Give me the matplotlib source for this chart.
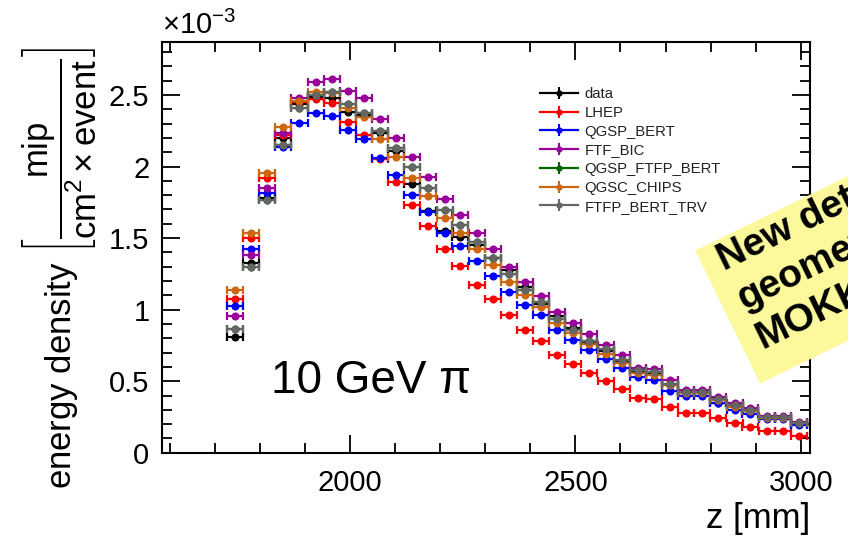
import matplotlib
matplotlib.use("Agg")
import matplotlib.pyplot as plt
from matplotlib.lines import Line2D
from matplotlib.patches import Polygon
from matplotlib.legend_handler import HandlerTuple
from matplotlib.ticker import MultipleLocator, FuncFormatter

plt.rcParams['font.family'] = ['Liberation Sans', 'DejaVu Sans']
plt.rcParams['mathtext.fontset'] = 'custom'
plt.rcParams['mathtext.rm'] = 'Liberation Sans'
plt.rcParams['mathtext.it'] = 'Liberation Sans:italic'
plt.rcParams['mathtext.bf'] = 'Liberation Sans:bold'

# layer positions [mm]
z = [1745, 1781, 1817, 1852, 1888, 1924, 1960, 1995, 2031, 2067, 2102, 2138,
     2174, 2210, 2245, 2281, 2317, 2353, 2388, 2424, 2460, 2495, 2531, 2567,
     2603, 2638, 2674, 2710, 2746, 2781, 2817, 2853, 2888, 2924, 2960, 2996]
half_width = 17.8

# energy density in units of 1e-3 mip / (cm^2 x event)
data = [0.81, 1.325, 1.78, 2.20, 2.435, 2.488, 2.481, 2.379, 2.360, 2.233, 2.109, 1.878,
        1.692, 1.55, 1.506, 1.452, 1.36, 1.278, 1.161, 1.04, 0.959, 0.871, 0.77, 0.71,
        0.642, 0.565, 0.555, 0.475, 0.415, 0.415, 0.347, 0.325, 0.29, 0.24, 0.24, 0.20]
lhep = [1.075, 1.501, 1.918, 2.22, 2.449, 2.470, 2.442, 2.309, 2.221, 2.05, 1.895, 1.734,
        1.587, 1.425, 1.308, 1.173, 1.071, 0.961, 0.861, 0.784, 0.684, 0.622, 0.559, 0.501,
        0.449, 0.385, 0.375, 0.317, 0.277, 0.281, 0.240, 0.207, 0.179, 0.149, 0.149, 0.119]
qgsp_bert = [1.027, 1.422, 1.814, 2.135, 2.302, 2.372, 2.355, 2.253, 2.193, 2.06, 1.941, 1.804,
             1.681, 1.534, 1.446, 1.341, 1.238, 1.126, 1.036, 0.964, 0.859, 0.787, 0.717, 0.654,
             0.594, 0.530, 0.510, 0.435, 0.398, 0.398, 0.35, 0.300, 0.270, 0.235, 0.235, 0.197]
ftf_bic = [0.955, 1.383, 1.853, 2.237, 2.481, 2.591, 2.612, 2.528, 2.477, 2.332, 2.202, 2.067,
           1.925, 1.774, 1.660, 1.536, 1.427, 1.301, 1.194, 1.096, 0.982, 0.906, 0.829, 0.756,
           0.680, 0.595, 0.587, 0.510, 0.440, 0.440, 0.389, 0.347, 0.312, 0.255, 0.255, 0.215]
qgsc_chips = [1.138, 1.538, 1.953, 2.279, 2.460, 2.521, 2.512, 2.407, 2.344, 2.195, 2.069, 1.918,
              1.793, 1.643, 1.538, 1.422, 1.313, 1.196, 1.099, 1.017, 0.906, 0.836, 0.759, 0.689,
              0.626, 0.555, 0.545, 0.470, 0.415, 0.415, 0.368, 0.322, 0.290, 0.242, 0.242, 0.205]
ftfp_bert_trv = [0.868, 1.301, 1.767, 2.151, 2.411, 2.502, 2.523, 2.435, 2.377, 2.249, 2.128, 1.995,
                 1.853, 1.697, 1.592, 1.471, 1.360, 1.250, 1.138, 1.050, 0.934, 0.859, 0.782, 0.724,
                 0.649, 0.578, 0.563, 0.482, 0.426, 0.426, 0.375, 0.333, 0.300, 0.247, 0.247, 0.207]
# not visible in the picture: sits underneath FTFP_BERT_TRV
qgsp_ftfp_bert = [0.868, 1.301, 1.767, 2.151, 2.411, 2.502, 2.523, 2.435, 2.377, 2.249, 2.128, 1.995,
                  1.853, 1.697, 1.592, 1.471, 1.360, 1.250, 1.138, 1.050, 0.934, 0.859, 0.782, 0.724,
                  0.649, 0.578, 0.563, 0.482, 0.426, 0.426, 0.375, 0.333, 0.300, 0.247, 0.247, 0.207]

labels = ['data', 'LHEP', 'QGSP_BERT', 'FTF_BIC', 'QGSP_FTFP_BERT', 'QGSC_CHIPS', 'FTFP_BERT_TRV']
series = [data, lhep, qgsp_bert, ftf_bic, qgsp_ftfp_bert, qgsc_chips, ftfp_bert_trv]
colors = ['#000000', '#ff0000', '#0000ff', '#990099', '#006600', '#cc6611', '#666666']

fig = plt.figure(figsize=(8.48, 5.39), dpi=100)
ax = fig.add_axes([0.191, 0.160, 0.764, 0.762])

handles = []
for vals, col, lab in zip(series, colors, labels):
    ax.errorbar(z, vals, xerr=half_width, fmt='o', ms=4.8, color=col,
                elinewidth=1.6, capsize=2.8, capthick=1.6)
    handles.append((Line2D([], [], color=col, lw=1.6, marker='o', ms=3.5),
                    Line2D([], [], color=col, ls='none', marker='|', ms=8, mew=1.5)))

ax.set_xlim(1583, 3020)
ax.set_ylim(0, 2.87)
ax.xaxis.set_major_locator(MultipleLocator(500))
ax.xaxis.set_minor_locator(MultipleLocator(100))
ax.yaxis.set_major_locator(MultipleLocator(0.5))
ax.yaxis.set_minor_locator(MultipleLocator(0.1))
ax.yaxis.set_major_formatter(FuncFormatter(lambda v, p: f'{v:g}'))
ax.tick_params(which='both', direction='in', top=True, right=True, width=1.3,
               labelsize=21)
ax.tick_params(which='major', length=13)
ax.tick_params(which='minor', length=7)
ax.tick_params(axis='x', pad=12)
ax.tick_params(axis='y', pad=9)
for s in ax.spines.values():
    s.set_linewidth(1.5)

ax.set_xlabel('z [mm]', fontsize=25, loc='right', labelpad=3)
ax.set_ylabel(r'energy density $\left[\dfrac{\mathrm{mip}}{\mathrm{cm}^{2}\times\mathrm{event}}\right]$',
              fontsize=25)
ax.yaxis.set_label_coords(-0.099, 0.45)
ax.text(0.0, 1.005, r'$\times10^{-3}$', transform=ax.transAxes, fontsize=21,
        ha='left', va='bottom')

ax.text(0.168, 0.145, '10 GeV π', transform=ax.transAxes, fontsize=33)

ax.legend(handles, labels, handler_map={tuple: HandlerTuple(ndivide=1)},
          loc='upper left', bbox_to_anchor=(540 / 848, 1 - 87 / 539),
          bbox_transform=fig.transFigure, frameon=False, fontsize=10.7,
          handlelength=2.55, handletextpad=0.45, labelspacing=0.32,
          borderpad=0, borderaxespad=0, numpoints=1, labelcolor='#222222')

# yellow sticky note, rotated, running off the right edge
W, H = 848.0, 539.0
corners = [(695.3, 250.6), (1054.8, 75.3), (1119.6, 208.3), (760.1, 383.6)]
note = Polygon([(x / W, 1 - y / H) for x, y in corners], closed=True,
               transform=fig.transFigure, facecolor='#fbf99c', edgecolor='none',
               zorder=5)
fig.add_artist(note)
for txt, (x, y) in zip(['New detector', 'geometry', 'MOKKA'],
                       [(724.2, 270.7), (743.5, 310.3), (762.3, 348.9)]):
    fig.text(x / W, 1 - y / H, txt, rotation=26, rotation_mode='anchor',
             ha='left', va='baseline', fontsize=28, fontweight='bold', zorder=6)

fig.savefig('out.png', dpi=100)
